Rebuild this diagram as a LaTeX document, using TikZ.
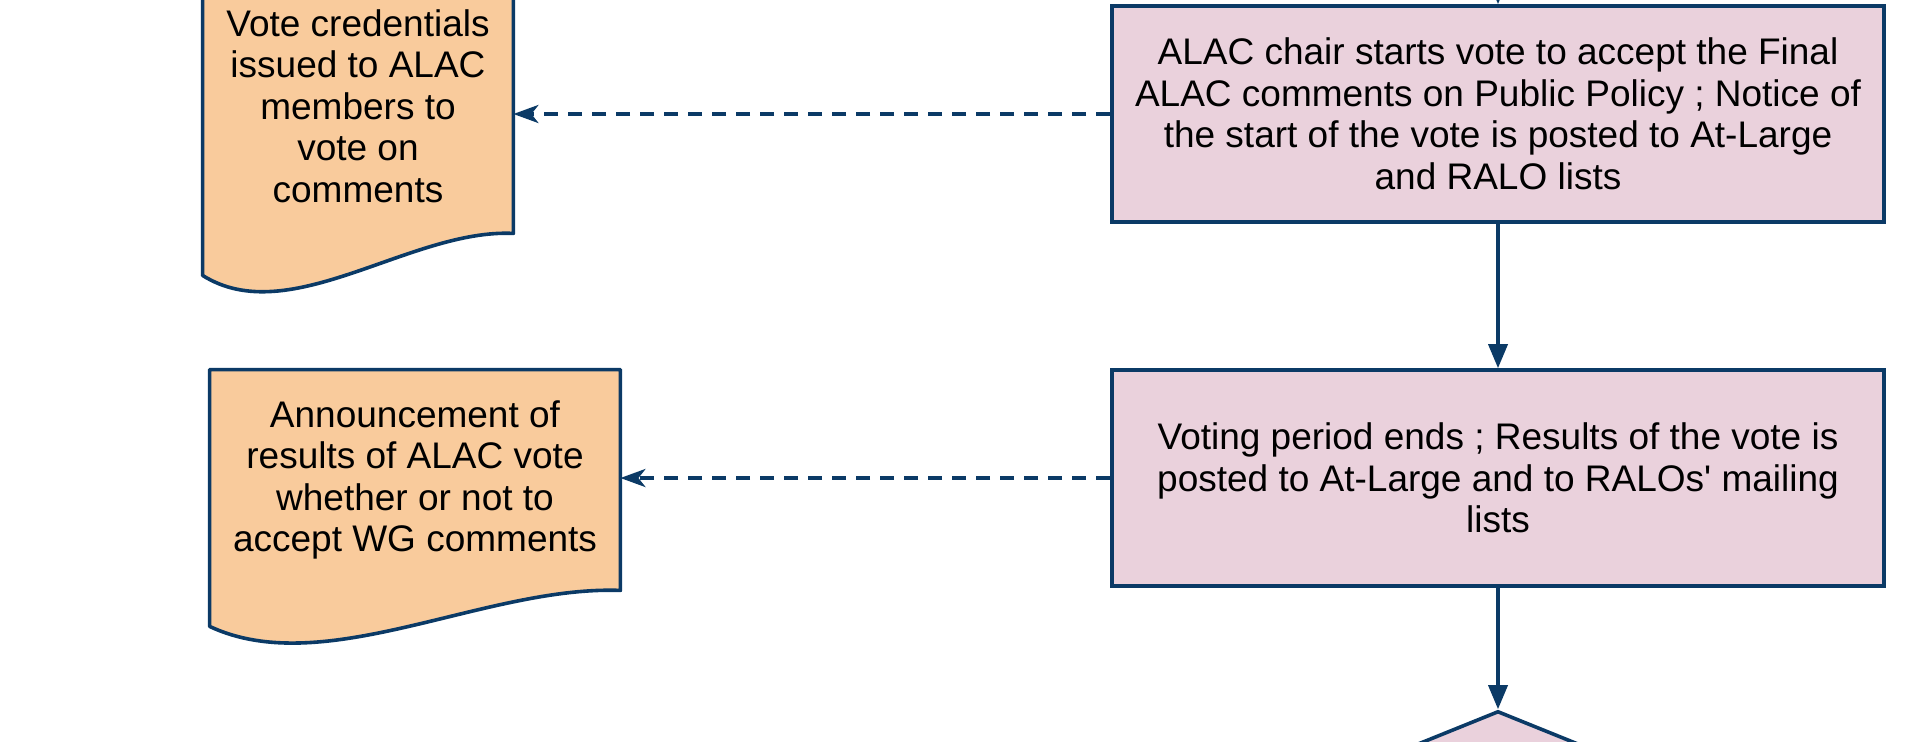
\documentclass[tikz,border=0pt]{standalone}
\usepackage{fontspec}
\newfontfamily\chartfont{Liberation Sans}
\usetikzlibrary{arrows.meta,shapes.geometric,backgrounds,calc}

\definecolor{edgeblue}{HTML}{0B3A66}
\definecolor{stepfill}{HTML}{EAD1DC}
\definecolor{docfill}{HTML}{F9CB9C}

\begin{document}
\begin{tikzpicture}[x=0.5pt,y=-0.5pt,
        every node/.style={font=\chartfont\fontsize{18.5}{20.75}\selectfont, align=center, text=black},
        stepbox/.style={draw=edgeblue, fill=stepfill, line width=1.8pt, minimum width=386pt, minimum height=108pt, inner sep=0pt},
        doctext/.style={inner sep=0pt},
        docshape/.style={draw=edgeblue, fill=docfill, line width=1.8pt, line join=round},
        flow/.style={draw=edgeblue, line width=1.8pt, -{Triangle[length=12pt,width=9.5pt]}},
        notice/.style={draw=edgeblue, line width=1.8pt, dash pattern=on 7pt off 5pt, -{Stealth[length=12.5pt,width=9pt,inset=3.5pt]}}]
            \useasboundingbox (0,0) rectangle (1925,741);

            \node[stepbox] (alacvote) at (1498,114) {ALAC chair starts vote to accept the Final\\ALAC comments on Public Policy ; Notice of\\the start of the vote is posted to At-Large\\and RALO lists};
            \node[stepbox] (results) at (1498,478) {Voting period ends ; Results of the vote is\\posted to At-Large and to RALOs' mailing\\lists};
            \node[draw=edgeblue, fill=stepfill, line width=1.8pt, diamond, minimum width=296pt, minimum height=120pt, inner sep=0pt] (decide) at (1498,831) {};

            \node[doctext, minimum width=155pt, minimum height=127pt] (cred) at (358,106) {Vote credentials\\issued to ALAC\\members to\\vote on\\comments};
            \node[doctext, minimum width=205pt, minimum height=110pt] (announce) at (415,480) {Announcement of\\results of ALAC vote\\whether or not to\\accept WG comments};

            % document shapes behind the texts
            \begin{scope}[on background layer]
                \draw[docshape] (cred.north west) -- (cred.north east) -- (cred.south east)
                    .. controls +(-103,-5) and +(87,55) .. ($(cred.south west)+(0,42)$) -- cycle;
                \draw[docshape] (announce.north west) -- (announce.north east) -- (announce.south east)
                    .. controls +(-136,-5) and +(115,54) .. ($(announce.south west)+(0,36)$) -- cycle;
            \end{scope}

            \coordinate (above) at (1498,-40);
            \draw[flow] (above) -- (alacvote);
            \draw[flow] (alacvote) -- (results);
            \draw[flow] (results) -- (decide);

            \draw[notice] (alacvote.west) -- (alacvote.west -| cred.east);
            \draw[notice] (results.west) -- (results.west -| announce.east);
        \end{tikzpicture}
\end{document}
